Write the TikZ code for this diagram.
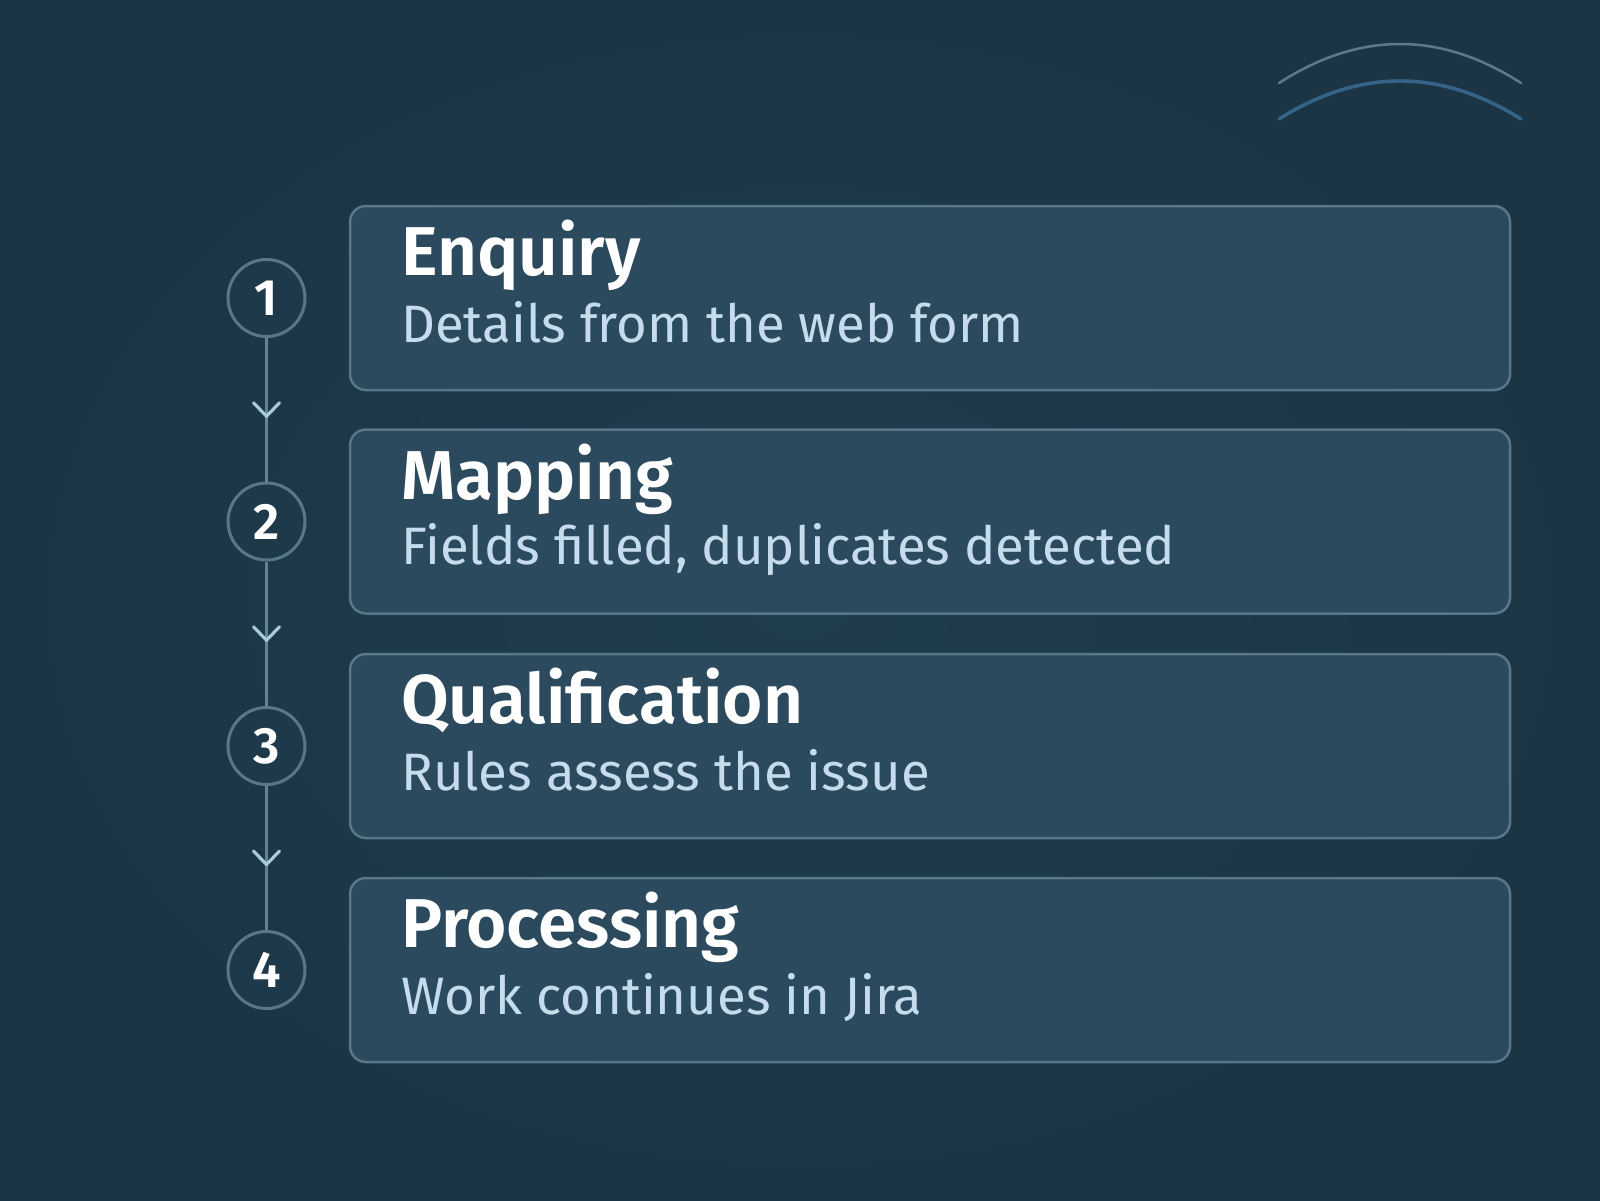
\documentclass[tikz,border=0pt]{standalone}
\usepackage{fontspec}
\setmainfont{Fira Sans}[BoldFont={Fira Sans SemiBold}]
\usetikzlibrary{calc}
\definecolor{bgin}{HTML}{203D4D}
\definecolor{bgout}{HTML}{1C3544}
\definecolor{bg}{HTML}{1E3A4A}
\definecolor{boxfill}{HTML}{2C4A5D}
\definecolor{boxline}{HTML}{5A7689}
\definecolor{linkline}{HTML}{648294}
\definecolor{chevcol}{HTML}{A9C9DD}
\definecolor{subcol}{HTML}{C5DCEC}
\definecolor{arcone}{HTML}{5B7B8C}
\definecolor{arctwo}{HTML}{35648A}
\newlength\tmpw
\begin{document}
\settowidth\tmpw{\fontsize{10pt}{12pt}\selectfont\bfseries Qualification}%
\pgfmathsetmacro\titlesize{10*402/\tmpw}%
\settowidth\tmpw{\fontsize{10pt}{12pt}\selectfont Fields filled, duplicates detected}%
\pgfmathsetmacro\subsize{10*774/\tmpw}%
\pgfmathsetmacro\numsize{0.74*\titlesize}%
\begin{tikzpicture}[x=1pt,y=-1pt]
\tikzset{
  stepbox/.style={draw=boxline, line width=2.5pt, fill=boxfill, rounded corners=16pt,
    minimum width=1160pt, minimum height=184pt, inner sep=0pt},
  numcircle/.style={circle, draw=boxline, line width=3pt, fill=bg, minimum size=77pt,
    inner sep=0pt, text=white, font=\fontsize{\numsize pt}{\numsize pt}\selectfont\bfseries},
  titletext/.style={anchor=base west, inner sep=0pt, text=white,
    font=\fontsize{\titlesize pt}{\titlesize pt}\selectfont\bfseries},
  subtext/.style={anchor=base west, inner sep=0pt, text=subcol,
    font=\fontsize{\subsize pt}{\subsize pt}\selectfont},
  link/.style={draw=linkline, line width=3.2pt},
  chev/.style={draw=chevcol, line width=3.2pt, line cap=round, line join=round},
}
\useasboundingbox (0,0) rectangle (1600,1200);
\shade[inner color=bgin, outer color=bgout] (0,0) rectangle (1600,1200);
% decorative arcs
\draw[arcone, line width=2.5pt, line cap=round] (1279,83) .. controls (1359.7,31) and (1440.3,31) .. (1521,83);
\draw[arctwo, line width=3.5pt, line cap=round] (1279,119) .. controls (1359.7,68.3) and (1440.3,68.3) .. (1521,119);
% boxes
\node[stepbox] (b1) at (930,298) {};
\node[stepbox] (b2) at (930,521.5) {};
\node[stepbox] (b3) at (930,746) {};
\node[stepbox] (b4) at (930,970) {};
% texts
\node[titletext] (t1) at (401,275.5) {Enquiry};
\node[subtext] (s1) at (401,342) {Details from the web form};
\node[titletext] (t2) at (401,499) {Mapping};
\node[subtext] (s2) at (401,564.5) {Fields filled, duplicates detected};
\node[titletext] (t3) at (401,723) {Qualification};
\node[subtext] (s3) at (401,790) {Rules assess the issue};
\node[titletext] (t4) at (401,947) {Processing};
\node[subtext] (s4) at (401,1014) {Work continues in Jira};
% number circles
\node[numcircle] (c1) at (266.5,298) {1};
\node[numcircle] (c2) at (266.5,521.5) {2};
\node[numcircle] (c3) at (266.5,746) {3};
\node[numcircle] (c4) at (266.5,970) {4};
% links
\draw[link] (c1) -- (c2);
\draw[link] (c2) -- (c3);
\draw[link] (c3) -- (c4);
% chevrons
\coordinate (m1) at ($(c1)!0.5!(c2)$);
\coordinate (m2) at ($(c2)!0.5!(c3)$);
\coordinate (m3) at ($(c3)!0.5!(c4)$);
\foreach \m in {m1,m2,m3}{
  \draw[chev] ($(\m)+(-13,-7)$) -- ($(\m)+(0,6.5)$) -- ($(\m)+(13,-7)$);
}
\end{tikzpicture}
\end{document}
